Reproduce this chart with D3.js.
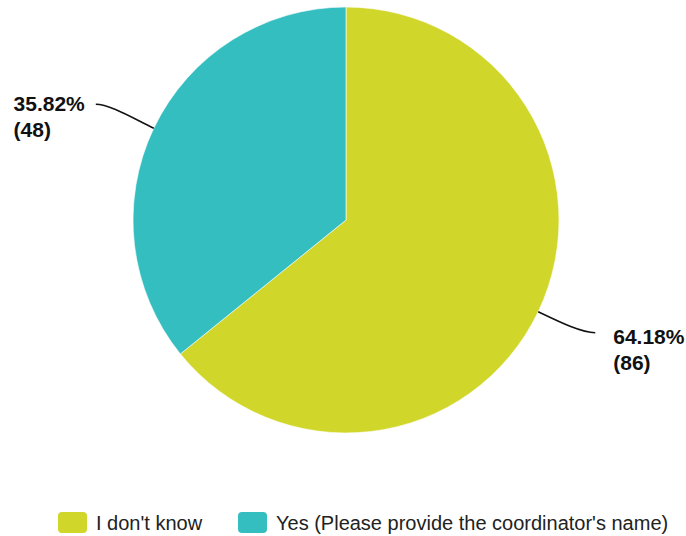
<!DOCTYPE html>
<html>
<head>
<meta charset="utf-8">
<script src="https://cdn.jsdelivr.net/npm/d3@7/dist/d3.min.js"></script>
<style>
  html, body { margin: 0; padding: 0; background: #fff; }
  svg { display: block; font-family: "Liberation Sans", Arial, sans-serif; }
</style>
</head>
<body>
<svg id="chart" width="686" height="536"></svg>
<script>
// Survey answers and their counts
const categories = ["I don't know", "Yes (Please provide the coordinator's name)"];
const counts = [86, 48];
const percentLabels = ["64.18%", "35.82%"];
const colors = ["#d1d72a", "#35bec0"];

const width = 686, height = 536;
const cx = 346, cy = 220, radius = 213;

const svg = d3.select("#chart");
const g = svg.append("g").attr("transform", `translate(${cx},${cy})`);

const data = categories.map((c, i) => ({ category: c, count: counts[i], pct: percentLabels[i], color: colors[i] }));

const pie = d3.pie().value(d => d.count).sort(null);
const arc = d3.arc().innerRadius(0).outerRadius(radius);
const arcs = pie(data);

g.selectAll("path.slice")
  .data(arcs)
  .join("path")
  .attr("class", "slice")
  .attr("d", arc)
  .attr("fill", d => d.data.color)
  .attr("stroke", "#fff")
  .attr("stroke-width", 0.6);

// Leader lines: leave the rim at the slice middle, bend toward horizontal
arcs.forEach(d => {
  const mid = (d.startAngle + d.endAngle) / 2;
  const sx = Math.sin(mid) * radius, sy = -Math.cos(mid) * radius;
  const right = sx > 0;
  const ex = right ? sx + 57 : sx - 58;
  const ey = sy + (right ? 21 : -24);
  const c1x = sx + Math.sin(mid) * 22, c1y = sy - Math.cos(mid) * 22;
  const c2x = right ? ex - 14 : ex + 14;
  const path = d3.path();
  path.moveTo(sx, sy);
  path.bezierCurveTo(c1x, c1y, c2x, ey, ex, ey);
  g.append("path")
    .attr("d", path.toString())
    .attr("fill", "none")
    .attr("stroke", "#111")
    .attr("stroke-width", 1.5);

  const base1 = right ? ey + 11 : ey + 7;
  const lineGap = 26;
  const lines = [d.data.pct, `(${d.data.count})`];
  const texts = lines.map((s, k) => g.append("text")
    .attr("y", base1 + k * lineGap)
    .attr("font-size", 21)
    .attr("font-weight", "bold")
    .attr("fill", "#111")
    .text(s));
  let left;
  if (right) {
    left = ex + 18;
  } else {
    const w = texts[0].node().getComputedTextLength();
    left = ex - 11 - w;
  }
  texts.forEach(t => t.attr("x", left));
});

// Legend
const legend = svg.append("g").attr("transform", "translate(58,512)");
const legendX = [0, 180];
data.forEach((d, i) => {
  const item = legend.append("g").attr("transform", `translate(${legendX[i]},0)`);
  item.append("rect")
    .attr("width", 29).attr("height", 21)
    .attr("rx", 4).attr("ry", 4)
    .attr("fill", d.color);
  item.append("text")
    .attr("x", 38).attr("y", 18)
    .attr("font-size", 20)
    .attr("fill", "#222")
    .text(d.category);
});
</script>
</body>
</html>
